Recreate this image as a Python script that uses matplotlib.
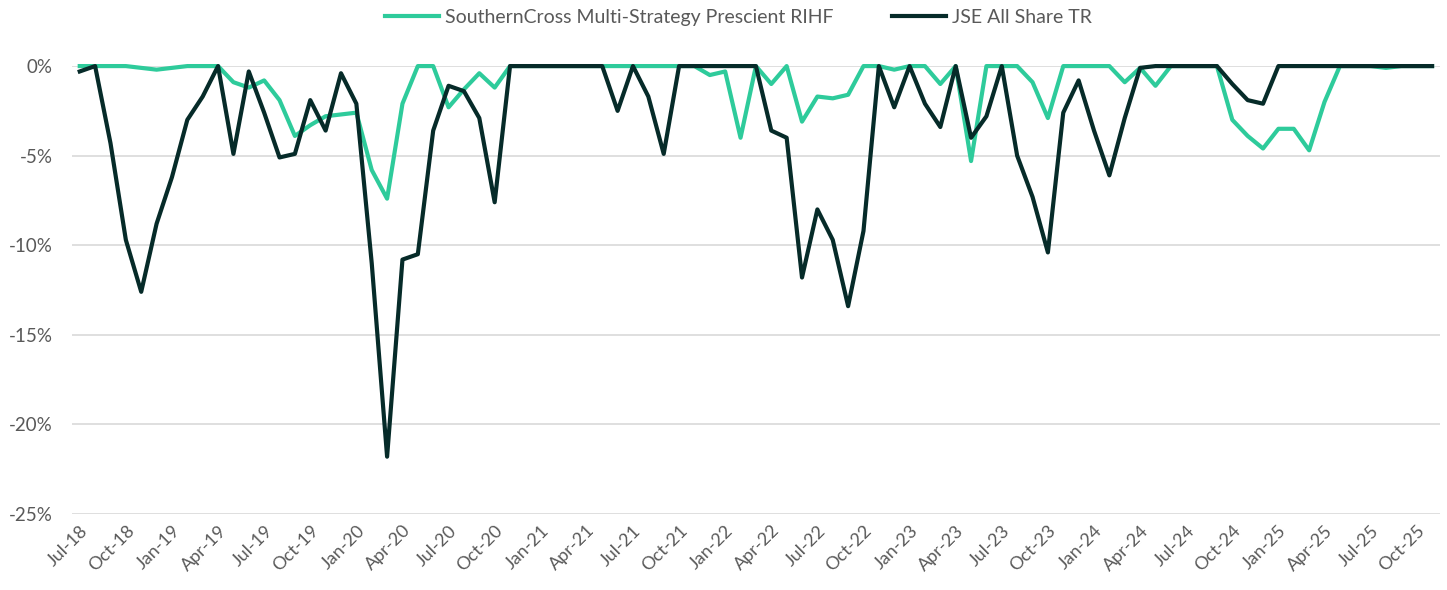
import matplotlib.pyplot as plt
import matplotlib.ticker as mticker
import numpy as np
import pandas as pd

# monthly drawdowns (%), Jul-18 .. Nov-25
months = pd.date_range("2018-07-01", periods=89, freq="MS")
month_labels = [d.strftime("%b-%y") for d in months]

southerncross = [
    0, 0, 0, 0, -0.1, -0.2, -0.1, 0, 0, 0,
    -0.9, -1.2, -0.8, -1.9, -3.9, -3.3, -2.8, -2.7, -2.6,
    -5.8, -7.4, -2.1, 0, 0, -2.3, -1.3, -0.4, -1.2,
    0, 0, 0, 0, 0, 0, 0, 0, 0, 0, 0, 0, 0,
    -0.5, -0.3, -4.0, 0, -1.0, 0, -3.1, -1.7, -1.8, -1.6,
    0, 0, -0.2, 0, 0, -1.0, 0, -5.3, 0, 0, 0, -0.9, -2.9,
    0, 0, 0, 0, -0.9, -0.1, -1.1, 0, 0, 0, 0,
    -3.0, -3.9, -4.6, -3.5, -3.5, -4.7, -2.0,
    0, 0, 0, -0.1, 0, 0, 0,
]

jse = [
    -0.3, 0, -4.3, -9.7, -12.6, -8.8, -6.2, -3.0, -1.7, 0,
    -4.9, -0.3, -2.6, -5.1, -4.9, -1.9, -3.6, -0.4, -2.1,
    -11.0, -21.8, -10.8, -10.5, -3.6, -1.1, -1.4, -2.9, -7.6,
    0, 0, 0, 0, 0, 0, 0,
    -2.5, 0, -1.7, -4.9, 0,
    0, 0, 0, 0, 0,
    -3.6, -4.0, -11.8, -8.0, -9.7, -13.4, -9.2,
    0, -2.3, 0, -2.1, -3.4, 0, -4.0, -2.8, 0, -5.0, -7.3, -10.4,
    -2.6, -0.8, -3.6, -6.1, -2.9, -0.1,
    0, 0, 0, 0, 0,
    -1.0, -1.9, -2.1,
    0, 0, 0, 0, 0, 0, 0, 0, 0, 0, 0,
]

green = "#2ECB9B"
dark = "#062B29"
grey = "#595959"

plt.rcParams['font.family'] = ['Lato', 'DejaVu Sans']

fig = plt.figure(figsize=(14.47, 5.9), dpi=100)
ax = fig.add_axes([0.0498, 0.1288, 0.9452, 0.7592])

x = np.arange(len(months))
ax.plot(x, southerncross, color=green, lw=3.0, clip_on=False, zorder=3,
        solid_joinstyle="round",
        label="SouthernCross Multi-Strategy Prescient RIHF")
ax.plot(x, jse, color=dark, lw=3.0, clip_on=False, zorder=4,
        solid_joinstyle="round", label="JSE All Share TR")

ax.set_xlim(-0.5, len(months) - 0.5)
ax.set_ylim(-25, 0)
ax.set_yticks(np.arange(-25, 1, 5))
ax.yaxis.set_major_formatter(mticker.FuncFormatter(lambda v, p: f"{v:.0f}%"))

tick_idx = x[::3]
ax.set_xticks(tick_idx)
ax.set_xticklabels([month_labels[i] for i in tick_idx], rotation=45,
                   ha="right", rotation_mode="anchor")

ax.grid(axis="y", color="#D9D9D9", lw=1.2)
ax.set_axisbelow(True)
for s in ax.spines.values():
    s.set_visible(False)
ax.tick_params(length=0, colors=grey, labelsize=13)
ax.tick_params(axis="y", pad=14, labelsize=13.5)
ax.tick_params(axis="x", pad=6)

ax.legend(loc="center", bbox_to_anchor=(0.487, 1.108), ncol=2, frameon=False,
          fontsize=14, labelcolor=grey, handlelength=2.8, handletextpad=0.3,
          columnspacing=3.0)

fig.savefig("out.png", dpi=100, facecolor="white")
